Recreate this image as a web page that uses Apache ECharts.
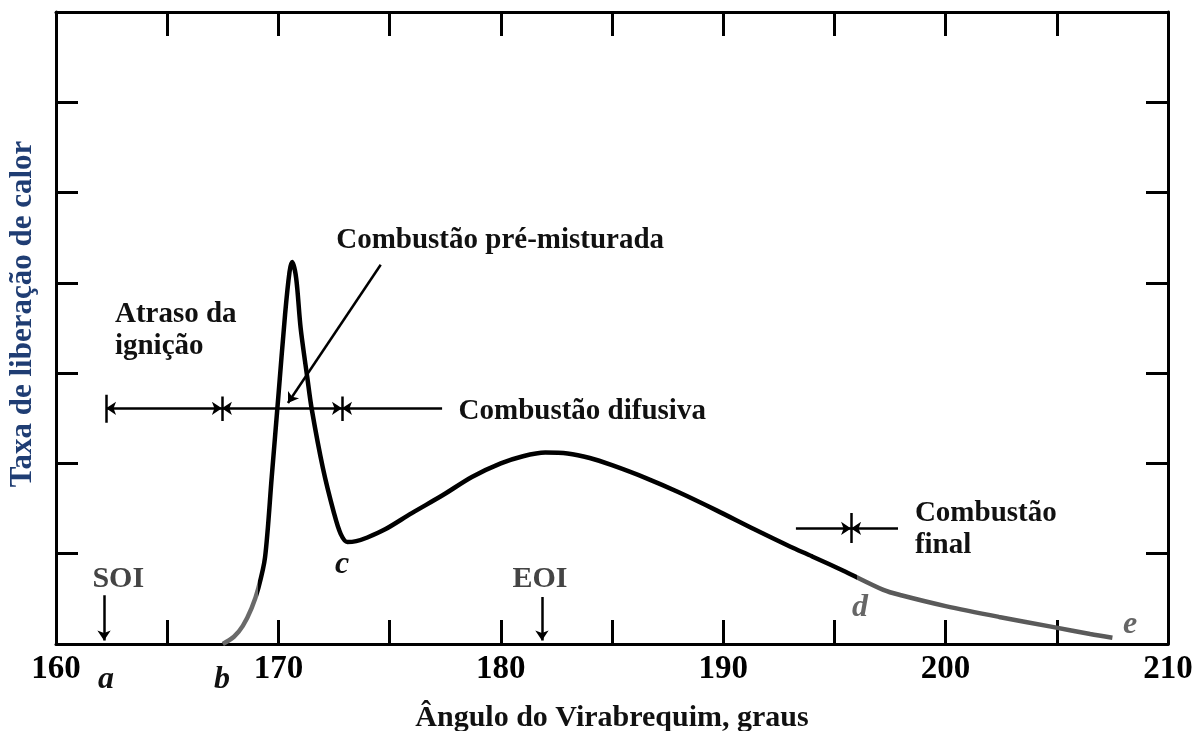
<!DOCTYPE html>
<html lang="pt">
  <head>
    <meta charset="UTF-8" />
    <title>Taxa de liberação de calor</title>
    <style>
      html, body { margin: 0; padding: 0; background: #fff; }
      #chart { width: 1203px; height: 731px; }
    </style>
  </head>
  <body>
    <div id="chart"></div>
    <script src="https://cdn.jsdelivr.net/npm/echarts@6/dist/echarts.min.js"></script>
    <script>
      // curva (graus, taxa em unidades de divisão)
      const angle = [167.5, 168.0, 168.4, 168.8, 169.1, 169.4, 169.7, 170.0, 170.3, 170.5, 170.62, 170.8,
        171.0, 171.3, 171.5, 172.0, 172.5, 172.8, 173.1, 173.5, 174.0, 174.8, 176.0, 177.4, 178.7, 180.0,
        181.0, 182.0, 183.0, 184.0, 185.0, 186.5, 188.0, 189.7, 191.4, 193.0, 194.0, 195.5, 197.2, 198.0,
        200.0, 202.4, 204.8, 206.5, 207.5];
      const rate = [0, 0.08, 0.2, 0.4, 0.62, 0.96, 1.85, 2.75, 3.65, 4.12, 4.23, 4.05,
        3.5, 2.95, 2.6, 1.95, 1.45, 1.22, 1.13, 1.14, 1.18, 1.27, 1.45, 1.65, 1.85, 2.0,
        2.08, 2.12, 2.11, 2.06, 1.98, 1.84, 1.68, 1.48, 1.27, 1.08, 0.97, 0.8, 0.6, 0.54,
        0.42, 0.3, 0.19, 0.11, 0.07];

      const xTicks = [160, 170, 180, 190, 200, 210];

      // textos e suas âncoras (graus, taxa)
      const noteText = ['Combustão pré-misturada', 'Atraso da\nignição', 'Combustão difusiva', 'Combustão\nfinal'];
      const notePos = [[172.6, 4.47], [162.65, 3.47], [178.1, 2.57], [198.62, 1.27]];
      const markText = ['SOI', 'EOI'];
      const markPos = [[162.8, 0.72], [181.76, 0.72]];
      const letterText = ['a', 'b', 'c'];
      const letterPos = [[162.25, -0.4], [167.46, -0.4], [172.86, 0.88]];
      const letterGreyText = ['d', 'e'];
      const letterGreyPos = [[196.15, 0.4], [208.3, 0.21]];

      // setas e traços
      const arrowBoth = [[[162.25, 2.61], [167.46, 2.61]], [[167.46, 2.61], [172.86, 2.61]]];
      const arrowEnd = [[[174.6, 4.2], [170.43, 2.67]], [[193.27, 1.28], [195.75, 1.28]],
        [[162.16, 0.54], [162.16, 0.04]], [[181.85, 0.52], [181.85, 0.04]]];
      const arrowStart = [[[172.86, 2.61], [177.36, 2.61]], [[195.75, 1.28], [197.86, 1.28]]];
      const bars = [[[162.25, 2.45], [162.25, 2.76]], [[167.46, 2.47], [167.46, 2.74]],
        [[172.86, 2.47], [172.86, 2.74]], [[195.75, 1.12], [195.75, 1.45]]];

      const serif = 'Liberation Serif';
      const ink = '#000';

      const chart = echarts.init(document.getElementById('chart'));

      function textSeries(names, pos, label) {
        return {
          type: 'scatter',
          symbolSize: 0,
          clip: false,
          silent: true,
          itemStyle: { opacity: 1 },
          data: names.map((n, i) => ({ name: n, value: pos[i] })),
          label: Object.assign({
            show: true,
            position: 'inside',
            formatter: '{b}',
            fontFamily: serif,
            fontWeight: 'bold',
            verticalAlign: 'middle',
            opacity: 1,
            textBorderWidth: 0
          }, label)
        };
      }

      function lineSeries(segs, symbol) {
        return {
          type: 'lines',
          coordinateSystem: 'cartesian2d',
          silent: true,
          symbol: symbol,
          symbolSize: 10,
          lineStyle: { color: ink, width: 2.5, opacity: 1 },
          data: segs.map((c) => ({ coords: c }))
        };
      }

      const xBase = {
        type: 'value',
        min: 160,
        max: 210,
        interval: 5,
        axisLine: { onZero: false, lineStyle: { color: ink, width: 3 } },
        axisTick: { inside: true, length: 24, lineStyle: { color: ink, width: 3 } },
        splitLine: { show: false }
      };
      const yBase = {
        type: 'value',
        min: 0,
        max: 7,
        interval: 1,
        axisLine: { show: true, onZero: false, lineStyle: { color: ink, width: 3 } },
        axisTick: { show: true, inside: true, length: 22, lineStyle: { color: ink, width: 3 } },
        axisLabel: { show: false },
        splitLine: { show: false }
      };

      const option = {
        animation: false,
        backgroundColor: '#fff',
        grid: { left: 56, right: 35, top: 12, bottom: 87, outerBoundsMode: 'none', containLabel: false },
        xAxis: [
          Object.assign({}, xBase, {
            position: 'bottom',
            name: 'Ângulo do Virabrequim, graus',
            nameLocation: 'middle',
            nameGap: 59,
            nameTextStyle: { fontFamily: serif, fontWeight: 'bold', fontSize: 30, color: '#111' },
            axisLabel: {
              margin: 9,
              fontFamily: serif,
              fontWeight: 'bold',
              fontSize: 33,
              color: ink,
              formatter: (v) => (xTicks.indexOf(v) >= 0 ? String(v) : '')
            }
          }),
          Object.assign({}, xBase, { position: 'top', axisLabel: { show: false } })
        ],
        yAxis: [
          Object.assign({}, yBase, {
            position: 'left',
            name: 'Taxa de liberação de calor',
            nameLocation: 'middle',
            nameGap: 18,
            nameTextStyle: { fontFamily: serif, fontWeight: 'bold', fontSize: 31, color: '#1f3d73', padding: [0, 0, 0, 28] }
          }),
          Object.assign({}, yBase, { position: 'right' })
        ],
        visualMap: {
          show: false,
          type: 'piecewise',
          seriesIndex: 0,
          dimension: 0,
          pieces: [
            { lt: 169.1, color: '#6a6a6a' },
            { gte: 169.1, lte: 196, color: '#000' },
            { gt: 196, color: '#5a5a5a' }
          ]
        },
        series: [
          {
            type: 'line',
            smooth: 0.3,
            showSymbol: false,
            silent: true,
            lineStyle: { width: 4.5 },
            data: angle.map((a, i) => [a, rate[i]])
          },
          lineSeries(arrowBoth, ['arrow', 'arrow']),
          lineSeries(arrowEnd, ['none', 'arrow']),
          lineSeries(arrowStart, ['arrow', 'none']),
          lineSeries(bars, ['none', 'none']),
          textSeries(noteText, notePos, { align: 'left', fontSize: 29, lineHeight: 32, color: '#111' }),
          textSeries(markText, markPos, { align: 'center', fontSize: 30, color: '#444' }),
          textSeries(letterText, letterPos, { align: 'center', fontSize: 32, fontStyle: 'italic', color: '#111' }),
          textSeries(letterGreyText, letterGreyPos, { align: 'center', fontSize: 32, fontStyle: 'italic', color: '#666' })
        ]
      };

      chart.setOption(option);
    </script>
  </body>
</html>
